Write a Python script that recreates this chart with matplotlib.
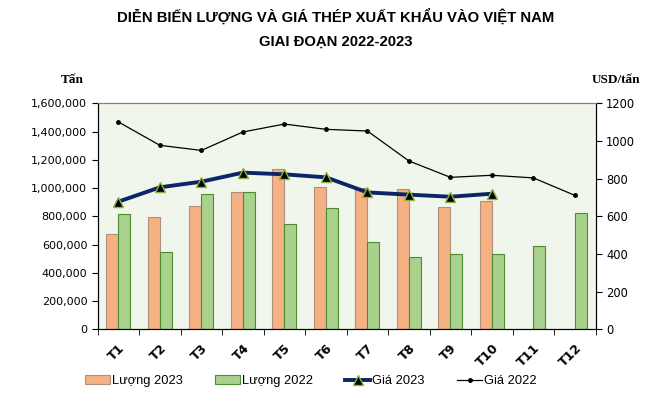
import matplotlib
matplotlib.use("Agg")
import matplotlib.pyplot as plt
import numpy as np
from matplotlib.ticker import FuncFormatter, FixedLocator

months = ["T1", "T2", "T3", "T4", "T5", "T6", "T7", "T8", "T9", "T10", "T11", "T12"]
luong_2023 = [672000, 793000, 871000, 970000, 1133000, 1005000, 998000, 991000, 866000, 906000, None, None]
luong_2022 = [814000, 545000, 956000, 970000, 743000, 857000, 616000, 510000, 531000, 531000, 588000, 821000]
gia_2023 = [678, 754, 784, 832, 823, 807, 727, 715, 704, 720, None, None]
gia_2022 = [1101, 977, 950, 1048, 1090, 1062, 1053, 894, 807, 818, 804, 711]

title1 = "DIỄN BIẾN LƯỢNG VÀ GIÁ THÉP XUẤT KHẨU VÀO VIỆT NAM"
title2 = "GIAI ĐOẠN 2022-2023"

fig = plt.figure(figsize=(6.64, 3.99), dpi=100)
ax = fig.add_axes([0.1471, 0.1747, 0.7500, 0.5663])
ax.set_facecolor("#f1f6ec")

x = np.arange(len(months))
w = 0.29
l23 = np.array([np.nan if v is None else v for v in luong_2023], dtype=float)
l22 = np.array(luong_2022, dtype=float)
b1 = ax.bar(x - w / 2, l23, width=w, color="#f4b183", edgecolor="#b0907c", linewidth=0.8, label="Lượng 2023", zorder=2)
b2 = ax.bar(x + w / 2, l22, width=w, color="#a9d18e", edgecolor="#4f8a2e", linewidth=0.8, label="Lượng 2022", zorder=2)

ax.set_xlim(-0.5, len(months) - 0.5)
ax.set_ylim(0, 1600000)
ax.set_yticks(np.arange(0, 1600001, 200000))
ax.yaxis.set_major_formatter(FuncFormatter(lambda v, p: f"{int(v):,}"))
ax.set_xticks(x)
ax.set_xticklabels(months, rotation=45, fontsize=9, fontweight="bold", family="DejaVu Sans",
                   ha="right", rotation_mode="anchor")
ax.tick_params(axis="x", length=0, pad=9)
ax.xaxis.set_minor_locator(FixedLocator(np.arange(-0.5, len(months), 1.0)))
ax.tick_params(axis="x", which="minor", length=4, color="black", direction="out")
ax.tick_params(axis="y", labelsize=8, length=4, direction="out")
for lbl in ax.get_yticklabels():
    lbl.set_family("DejaVu Sans")
for side in ["left", "bottom"]:
    ax.spines[side].set_color("black")
ax.spines["top"].set_color("#808080")

ax2 = ax.twinx()
g23 = np.array([np.nan if v is None else v for v in gia_2023], dtype=float)
g22 = np.array(gia_2022, dtype=float)
ln1, = ax2.plot(x, g23, color="#0b2566", linewidth=2.8, marker="^", markersize=7.5,
                markerfacecolor="black", markeredgecolor="#8db33a", markeredgewidth=1.0,
                label="Giá 2023", zorder=4)
ln2, = ax2.plot(x, g22, color="black", linewidth=0.9, marker="o", markersize=2.5,
                label="Giá 2022", zorder=3)
ax2.set_ylim(0, 1200)
ax2.set_yticks(np.arange(0, 1201, 200))
ax2.tick_params(axis="y", labelsize=8.3, length=4, direction="out")
for lbl in ax2.get_yticklabels():
    lbl.set_family("DejaVu Sans")
ax2.spines["right"].set_color("black")
ax2.spines["top"].set_color("#808080")

fig.text(0.505, 0.958, title1, ha="center", va="center", fontsize=10.7, fontweight="bold", family="Liberation Sans")
fig.text(0.505, 0.895, title2, ha="center", va="center", fontsize=10.7, fontweight="bold", family="Liberation Sans")
fig.text(0.109, 0.800, "Tấn", ha="center", va="center", fontsize=9.5, fontweight="bold", family="Liberation Serif")
fig.text(0.927, 0.800, "USD/tấn", ha="center", va="center", fontsize=9.5, fontweight="bold", family="Liberation Serif")

fig.legend(handles=[b1, b2, ln1, ln2], labels=["Lượng 2023", "Lượng 2022", "Giá 2023", "Giá 2022"],
           loc="center", bbox_to_anchor=(0.468, 0.045), ncol=4, frameon=False,
           prop={"family": "Liberation Sans", "size": 9.3}, handlelength=1.95, handletextpad=0.15,
           columnspacing=2.5, handleheight=0.6, borderpad=0)

fig.savefig("out.png", dpi=100)
